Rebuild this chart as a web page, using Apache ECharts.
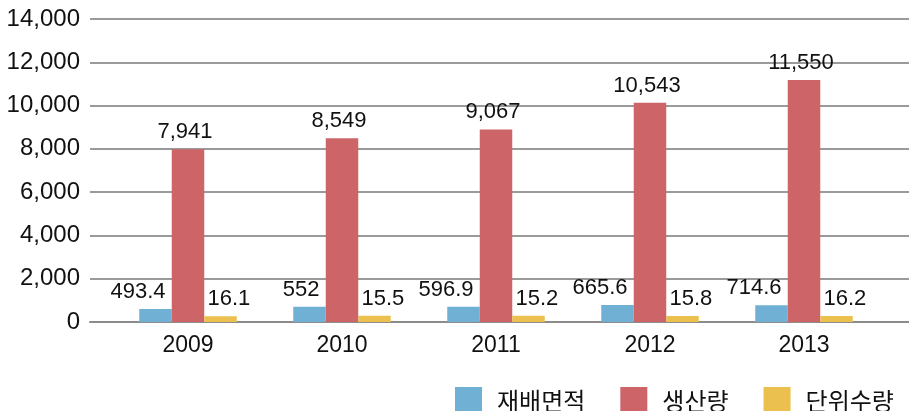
<!DOCTYPE html>
<html>
<head>
<meta charset="utf-8">
<script src="https://cdn.jsdelivr.net/npm/echarts@6/dist/echarts.min.js"></script>
<style>
  html, body { margin: 0; padding: 0; background: #fff; }
  #c1 { width: 909px; height: 411px; }
</style>
</head>
<body>
<div id="c1"></div>
<script>
var years = ["2009", "2010", "2011", "2012", "2013"];
var seriesNames = ["재배면적", "생산량", "단위수량"];
// bar heights as drawn in the picture
var areaBars = [600, 700, 710, 790, 770];
var prodBars = [7980, 8490, 8900, 10130, 11180];
var yieldBars = [270, 290, 290, 280, 280];
// printed data labels
var areaLabels = ["493.4", "552", "596.9", "665.6", "714.6"];
var prodLabels = ["7,941", "8,549", "9,067", "10,543", "11,550"];
var yieldLabels = ["16.1", "15.5", "15.2", "15.8", "16.2"];
var yMin = 0, yMax = 14000, yStep = 2000;

var chartDom = document.getElementById("c1");
var myChart = echarts.init(chartDom);
var font = "'Liberation Sans', Arial, sans-serif";

function lbl(arr, align, dx) {
  return {
    show: true,
    position: "top",
    align: align,
    offset: [dx, 0],
    distance: 6,
    color: "#111",
    fontSize: 22,
    fontFamily: font,
    formatter: function (p) {
      return arr[p.dataIndex];
    },
  };
}

var option = {
  animation: false,
  color: ["#6FB0D4", "#CD6467", "#EBC04F"],
  legend: {
    data: seriesNames,
    left: 450,
    top: 382,
    itemWidth: 27,
    itemHeight: 27,
    itemGap: 35,
    icon: "rect",
    textStyle: {
      fontSize: 24,
      color: "#111",
      fontFamily: "'Noto Sans CJK KR', sans-serif",
      padding: [0, 0, 0, 10],
    },
  },
  grid: [
    { left: 111, right: 28, top: 19, bottom: 89 },
    { left: 90, right: 0, top: 19, bottom: 89 },
  ],
  xAxis: [
    {
      type: "category",
      gridIndex: 0,
      data: years,
      axisLine: { show: false },
      axisTick: { show: false },
      axisLabel: { fontSize: 23, color: "#111", fontFamily: font, margin: 12 },
    },
    {
      type: "category",
      gridIndex: 1,
      data: years,
      show: true,
      axisLine: { show: true, lineStyle: { color: "#8c8c8c", width: 2 } },
      axisTick: { show: false },
      axisLabel: { show: false },
    },
  ],
  yAxis: [
    {
      type: "value",
      gridIndex: 0,
      min: yMin,
      max: yMax,
      interval: yStep,
      show: false,
      splitLine: { show: false },
    },
    {
      type: "value",
      gridIndex: 1,
      min: yMin,
      max: yMax,
      interval: yStep,
      axisLine: { show: false },
      axisTick: { show: false },
      axisLabel: { fontSize: 24, color: "#111", fontFamily: font, margin: 10 },
      splitLine: { lineStyle: { color: "#9a9a9a", width: 2 } },
    },
  ],
  series: [
    {
      name: seriesNames[0],
      type: "bar",
      xAxisIndex: 0,
      yAxisIndex: 0,
      barWidth: 32.5,
      barGap: "0%",
      data: areaBars,
      label: lbl(areaLabels, "right", 10),
      z: 3,
    },
    {
      name: seriesNames[1],
      type: "bar",
      xAxisIndex: 0,
      yAxisIndex: 0,
      barWidth: 32.5,
      barGap: "0%",
      data: prodBars,
      label: lbl(prodLabels, "center", -3),
      z: 3,
    },
    {
      name: seriesNames[2],
      type: "bar",
      xAxisIndex: 0,
      yAxisIndex: 0,
      barWidth: 32.5,
      barGap: "0%",
      data: yieldBars,
      label: lbl(yieldLabels, "left", -13),
      z: 3,
    },
  ],
};
myChart.setOption(option);
window.addEventListener("resize", function () {
  myChart.resize();
});
</script>
</body>
</html>
